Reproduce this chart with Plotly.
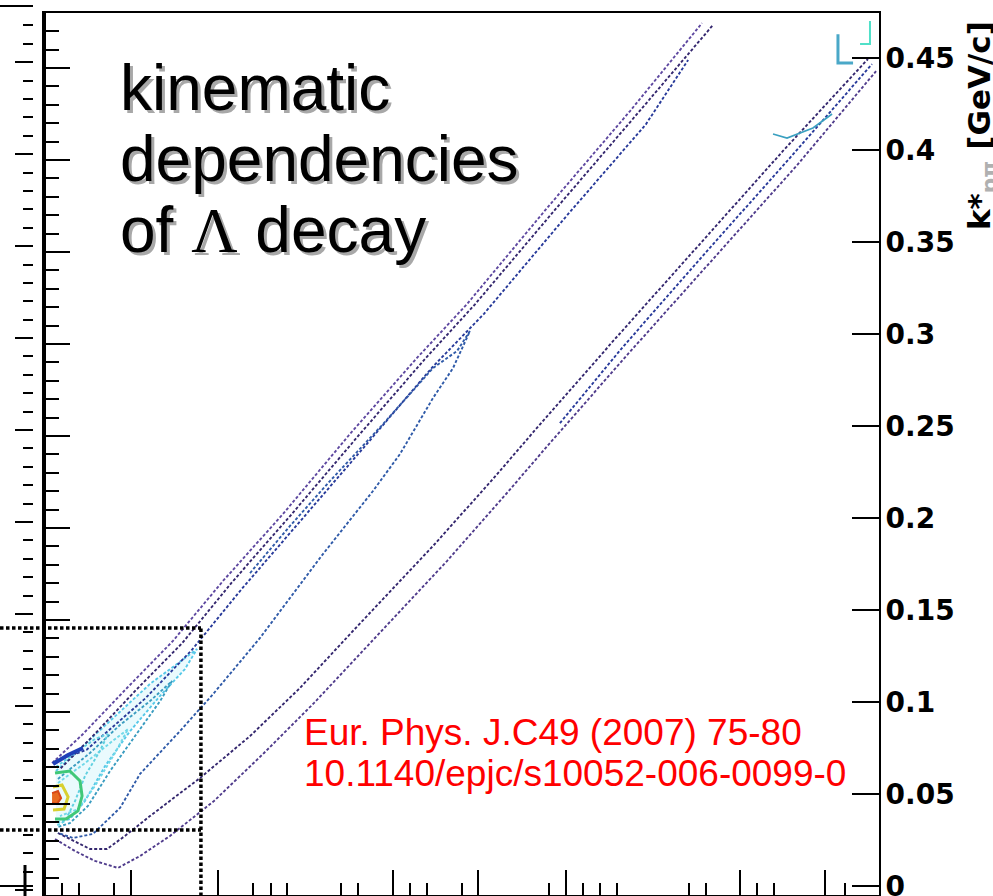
import plotly.graph_objects as go

# ---------------- data (k* values in GeV/c) ----------------
y_tick_vals = [0, 0.05, 0.1, 0.15, 0.2, 0.25, 0.3, 0.35, 0.4, 0.45]
y_tick_text = ["0", "0.05", "0.1", "0.15", "0.2", "0.25", "0.3", "0.35", "0.4", "0.45"]
x_major_ticks = [0.0462, 0.0935, 0.1886, 0.2348, 0.2826, 0.3772, 0.4234]
x_minor_ticks = [0.0087, 0.0179, 0.0370, 0.1125, 0.1223, 0.1310, 0.1603, 0.1696,
                 0.1978, 0.2071, 0.2261, 0.2734, 0.2918, 0.3011, 0.3103, 0.3495,
                 0.3587, 0.3864, 0.3957, 0.4342]

# upper band contours
u1_x = [0.0033, 0.0201, 0.0440, 0.0690, 0.0962, 0.1288, 0.1652, 0.2016, 0.2288, 0.2723, 0.3174, 0.3565]
u1_y = [0.0668, 0.0826, 0.1076, 0.1332, 0.1658, 0.2022, 0.2457, 0.2870, 0.3163, 0.3685, 0.4212, 0.4690]
u2_x = [0.0080, 0.0250, 0.0490, 0.0740, 0.1010, 0.1330, 0.1700, 0.2060, 0.2330, 0.2770, 0.3220, 0.3625]
u2_y = [0.0640, 0.0810, 0.1066, 0.1320, 0.1650, 0.2015, 0.2450, 0.2865, 0.3160, 0.3680, 0.4205, 0.4680]
u3_x = [0.0040, 0.0220, 0.0540, 0.0790, 0.1060, 0.1380, 0.1750, 0.2100, 0.2380, 0.2810, 0.3260, 0.3490]
u3_y = [0.0675, 0.0740, 0.1020, 0.1280, 0.1610, 0.1980, 0.2410, 0.2820, 0.3110, 0.3620, 0.4140, 0.4490]

# inner ridge loop (up along the band, back down the middle)
im_x = [0.1109, 0.1326, 0.1543, 0.1832, 0.2103, 0.2234, 0.2304, 0.2212, 0.2103, 0.1924, 0.1777,
        0.1505, 0.1163, 0.0908, 0.0728, 0.0511, 0.0402, 0.0255, 0.0147, 0.0065]
im_y = [0.1701, 0.1957, 0.2201, 0.2511, 0.2815, 0.2908, 0.3016, 0.2815, 0.2652, 0.2348, 0.2147,
        0.1804, 0.1348, 0.1043, 0.0842, 0.0609, 0.0424, 0.0283, 0.0261, 0.0288]

# lower band contours
l2_x = [0.0065, 0.0147, 0.0239, 0.0332, 0.0429, 0.0565, 0.0837, 0.1109, 0.1380, 0.1668, 0.2103,
        0.2429, 0.2663, 0.3092, 0.3554, 0.4005, 0.4467]
l2_y = [0.0288, 0.0245, 0.0201, 0.0201, 0.0272, 0.0380, 0.0587, 0.0815, 0.1076, 0.1386, 0.1848,
        0.2212, 0.2484, 0.2973, 0.3489, 0.3995, 0.4495]
l1_x = [0.0049, 0.0158, 0.0266, 0.0391, 0.0511, 0.0674, 0.0913, 0.1185, 0.1457, 0.1745, 0.2179,
        0.2505, 0.2739, 0.3168, 0.3630, 0.4082, 0.4511]
l1_y = [0.0255, 0.0190, 0.0136, 0.0098, 0.0163, 0.0272, 0.0462, 0.0723, 0.0995, 0.1304, 0.1766,
        0.2136, 0.2408, 0.2897, 0.3413, 0.3918, 0.4429]
l3_x = [0.2793, 0.3130, 0.3592, 0.4043, 0.4489]
l3_y = [0.2516, 0.2924, 0.3451, 0.3957, 0.4467]

# small pieces near the top right
tr1_x = [0.3951, 0.4027, 0.4168, 0.4272]
tr1_y = [0.4087, 0.4065, 0.4120, 0.4196]
tr2_x = [0.4304, 0.4304, 0.4386]
tr2_y = [0.4630, 0.4473, 0.4473]
tr3_x = [0.4424, 0.4478, 0.4478]
tr3_y = [0.4576, 0.4576, 0.4701]

# hot-spot contours
c1_x = [0.0054, 0.0185, 0.0348, 0.0565, 0.0821, 0.0755, 0.0620, 0.0457, 0.0321, 0.0212, 0.0130, 0.0054]
c1_y = [0.0625, 0.0745, 0.0897, 0.1098, 0.1288, 0.1179, 0.1033, 0.0842, 0.0652, 0.0462, 0.0364, 0.0342]
c2_x = [0.0065, 0.0239, 0.0402, 0.0565, 0.0685, 0.0620, 0.0484, 0.0348, 0.0228, 0.0130, 0.0065]
c2_y = [0.0582, 0.0723, 0.0875, 0.1005, 0.1114, 0.1005, 0.0815, 0.0625, 0.0435, 0.0342, 0.0321]
c3_x = [0.0065, 0.0212, 0.0348, 0.0446, 0.0375, 0.0266, 0.0174, 0.0076]
c3_y = [0.0560, 0.0668, 0.0777, 0.0853, 0.0723, 0.0543, 0.0418, 0.0380]
c4_x = [0.0054, 0.0158, 0.0266, 0.0337, 0.0293, 0.0212, 0.0158, 0.0103, 0.0054]
c4_y = [0.0647, 0.0723, 0.0799, 0.0826, 0.0734, 0.0598, 0.0462, 0.0353, 0.0326]
b_x = [0.0038, 0.0120, 0.0201]
b_y = [0.0663, 0.0712, 0.0750]
g_x = [0.0049, 0.0130, 0.0185, 0.0196, 0.0174, 0.0109, 0.0049]
g_y = [0.0614, 0.0625, 0.0571, 0.0489, 0.0408, 0.0364, 0.0364]
yl_x = [0.0038, 0.0087, 0.0120, 0.0098, 0.0038]
yl_y = [0.0538, 0.0549, 0.0484, 0.0418, 0.0413]
r_x = [0.0033, 0.0065, 0.0082, 0.0060, 0.0033]
r_y = [0.0505, 0.0516, 0.0478, 0.0446, 0.0451]

# dotted selection box
box_y = [0.0304, 0.1402]
box_x_right = 0.0842

X_RANGE = [0, 0.4527]
Y_RANGE = [-0.0049, 0.4745]

# ---------------- figure ----------------
fig = go.Figure()

def contour(x, y, color, width=1.9, dash="3px,2px", fill=None, fillcolor=None):
    fig.add_trace(go.Scatter(x=x, y=y, mode="lines", showlegend=False, hoverinfo="skip",
                             line=dict(color=color, width=width, dash=dash),
                             fill=fill, fillcolor=fillcolor))

contour(c1_x, c1_y, "#55c8e8", fill="toself", fillcolor="rgba(170,235,248,0.25)")
contour(u1_x, u1_y, "#5e48a0")
contour(u2_x, u2_y, "#34276e")
contour(u3_x, u3_y, "#283a9a")
contour(l1_x, l1_y, "#503c8c")
contour(l2_x, l2_y, "#34276e")
contour(l3_x, l3_y, "#283a9a")
contour(im_x, im_y, "#2f5aa8")
contour(tr1_x, tr1_y, "#3aa0c0", width=1.6, dash="solid")
contour(tr2_x, tr2_y, "#4aa8c8", width=3, dash="solid")
contour(tr3_x, tr3_y, "#50e0c8", width=2, dash="solid")
contour(c2_x, c2_y, "#3a9cc0")
contour(c3_x, c3_y, "#70d8e8")
contour(c4_x, c4_y, "#60d0e0")
contour(b_x, b_y, "#1f3fb8", width=4, dash="solid")
contour(g_x, g_y, "#40c878", width=3, dash="solid")
contour(yl_x, yl_y, "#d8d030", width=3, dash="solid")
contour(r_x, r_y, "#d84818", width=2, dash="solid", fill="toself", fillcolor="#e86a20")

# dummy traces so the extra tick axes are drawn
fig.add_trace(go.Scatter(x=[None], y=[None], yaxis="y2", showlegend=False, hoverinfo="skip"))
fig.add_trace(go.Scatter(x=[None], y=[None], yaxis="y3", showlegend=False, hoverinfo="skip"))

W, H = 993, 896
xdom = [46 / W, 879 / W]
ydom = [1 / H, 883 / H]

fig.update_layout(
    width=W, height=H, autosize=False,
    margin=dict(l=0, r=0, t=0, b=0, pad=0),
    paper_bgcolor="white", plot_bgcolor="white",
    showlegend=False,
    xaxis=dict(domain=xdom, range=X_RANGE, showgrid=False, zeroline=False, automargin=False,
               showline=True, linecolor="black", linewidth=2, mirror=True,
               ticks="inside", tickmode="array", tickvals=x_major_ticks,
               ticklen=25, tickwidth=2, tickcolor="black", showticklabels=False,
               minor=dict(ticks="inside", tickmode="array", tickvals=x_minor_ticks,
                          ticklen=12, tickwidth=2, tickcolor="black", showgrid=False)),
    yaxis=dict(domain=ydom, range=Y_RANGE, side="right", anchor="x", automargin=False,
               showgrid=False, zeroline=False, showline=True, linecolor="black",
               linewidth=2, ticks="inside", tickmode="array", tickvals=y_tick_vals,
               ticktext=y_tick_text, ticklen=27, tickwidth=2, tickcolor="black",
               tickfont=dict(family="DejaVu Sans", size=28, color="black", weight="bold"),
               ticklabelstandoff=-1, ticklabelshift=0, ticklabeloverflow="allow"),
    yaxis2=dict(domain=ydom, range=Y_RANGE, overlaying="y", side="left", anchor="x",
                automargin=False,
                showgrid=False, zeroline=False, showline=True, linecolor="black",
                linewidth=3.5, ticks="inside", tickmode="linear", tick0=-0.0054,
                dtick=0.05, ticklen=24, tickwidth=2, tickcolor="black",
                showticklabels=False,
                minor=dict(ticks="inside", tick0=-0.0054, dtick=0.01, ticklen=13,
                           tickwidth=2, tickcolor="black", showgrid=False)),
    yaxis3=dict(domain=ydom, range=Y_RANGE, overlaying="y", side="left", anchor="free",
                automargin=False,
                position=33 / W, showgrid=False, zeroline=False, showline=False,
                ticks="outside", tickmode="linear", tick0=-0.0022, dtick=0.05,
                ticklen=18, tickwidth=2, tickcolor="black", showticklabels=False,
                minor=dict(ticks="outside", tick0=-0.0022, dtick=0.01, ticklen=10,
                           tickwidth=2, tickcolor="black", showgrid=False)),
)

# dotted box
dot = dict(color="black", width=3.5, dash="3.5px,2.5px")
for yv in box_y:
    fig.add_shape(type="line", xref="paper", yref="y", x0=0, x1=201 / W, y0=yv, y1=yv, line=dot)
fig.add_shape(type="line", xref="x", yref="paper", x0=box_x_right, x1=box_x_right,
              y0=0, y1=1 - 627 / H, line=dot)

# fragments of the neighbouring frame on the far left
frag = dict(color="black", width=2)
fig.add_shape(type="line", xref="paper", yref="paper", x0=0, x1=33 / W, y0=1 - 6 / H, y1=1 - 6 / H, line=frag)
fig.add_shape(type="line", xref="paper", yref="paper", x0=0, x1=33 / W, y0=1 - 886 / H, y1=1 - 886 / H, line=frag)
fig.add_shape(type="line", xref="paper", yref="paper", x0=25 / W, x1=25 / W, y0=0, y1=1 - 865 / H,
              line=dict(color="black", width=3))

# big title text with drop shadow
title_lines = ["kinematic", "dependencies",
               "of <span style=\"font-family:Liberation Serif\">Λ</span> decay"]
title_centers = [88, 159, 230]
for txt, yc in zip(title_lines, title_centers):
    fig.add_annotation(xref="paper", yref="paper", x=(118 + 2.5) / W, y=1 - (yc + 2.5) / H,
                       xanchor="left", yanchor="middle", showarrow=False, text=txt,
                       font=dict(family="Liberation Sans", size=64, color="#a8a8a8"))
    fig.add_annotation(xref="paper", yref="paper", x=118 / W, y=1 - yc / H,
                       xanchor="left", yanchor="middle", showarrow=False, text=txt,
                       font=dict(family="Liberation Sans", size=64, color="black"))

# reference text
ref_lines = ["Eur. Phys. J.C49 (2007) 75-80", "10.1140/epjc/s10052-006-0099-0"]
ref_centers = [732, 773]
for txt, yc in zip(ref_lines, ref_centers):
    fig.add_annotation(xref="paper", yref="paper", x=302 / W, y=1 - yc / H,
                       xanchor="left", yanchor="middle", showarrow=False, text=txt,
                       font=dict(family="Liberation Sans", size=37, color="#ff0000"))

# axis title (rotated, partially cut by the right edge)
fig.add_annotation(xref="paper", yref="paper", x=981 / W, y=1 - 126 / H,
                   xanchor="center", yanchor="middle", showarrow=False, textangle=-90,
                   text="k*<sub><span style=\"color:#b0b0b0\">pπ</span></sub> [GeV/c]",
                   font=dict(family="DejaVu Sans", size=31, color="black", weight="bold"))

fig.write_html("out.html")
